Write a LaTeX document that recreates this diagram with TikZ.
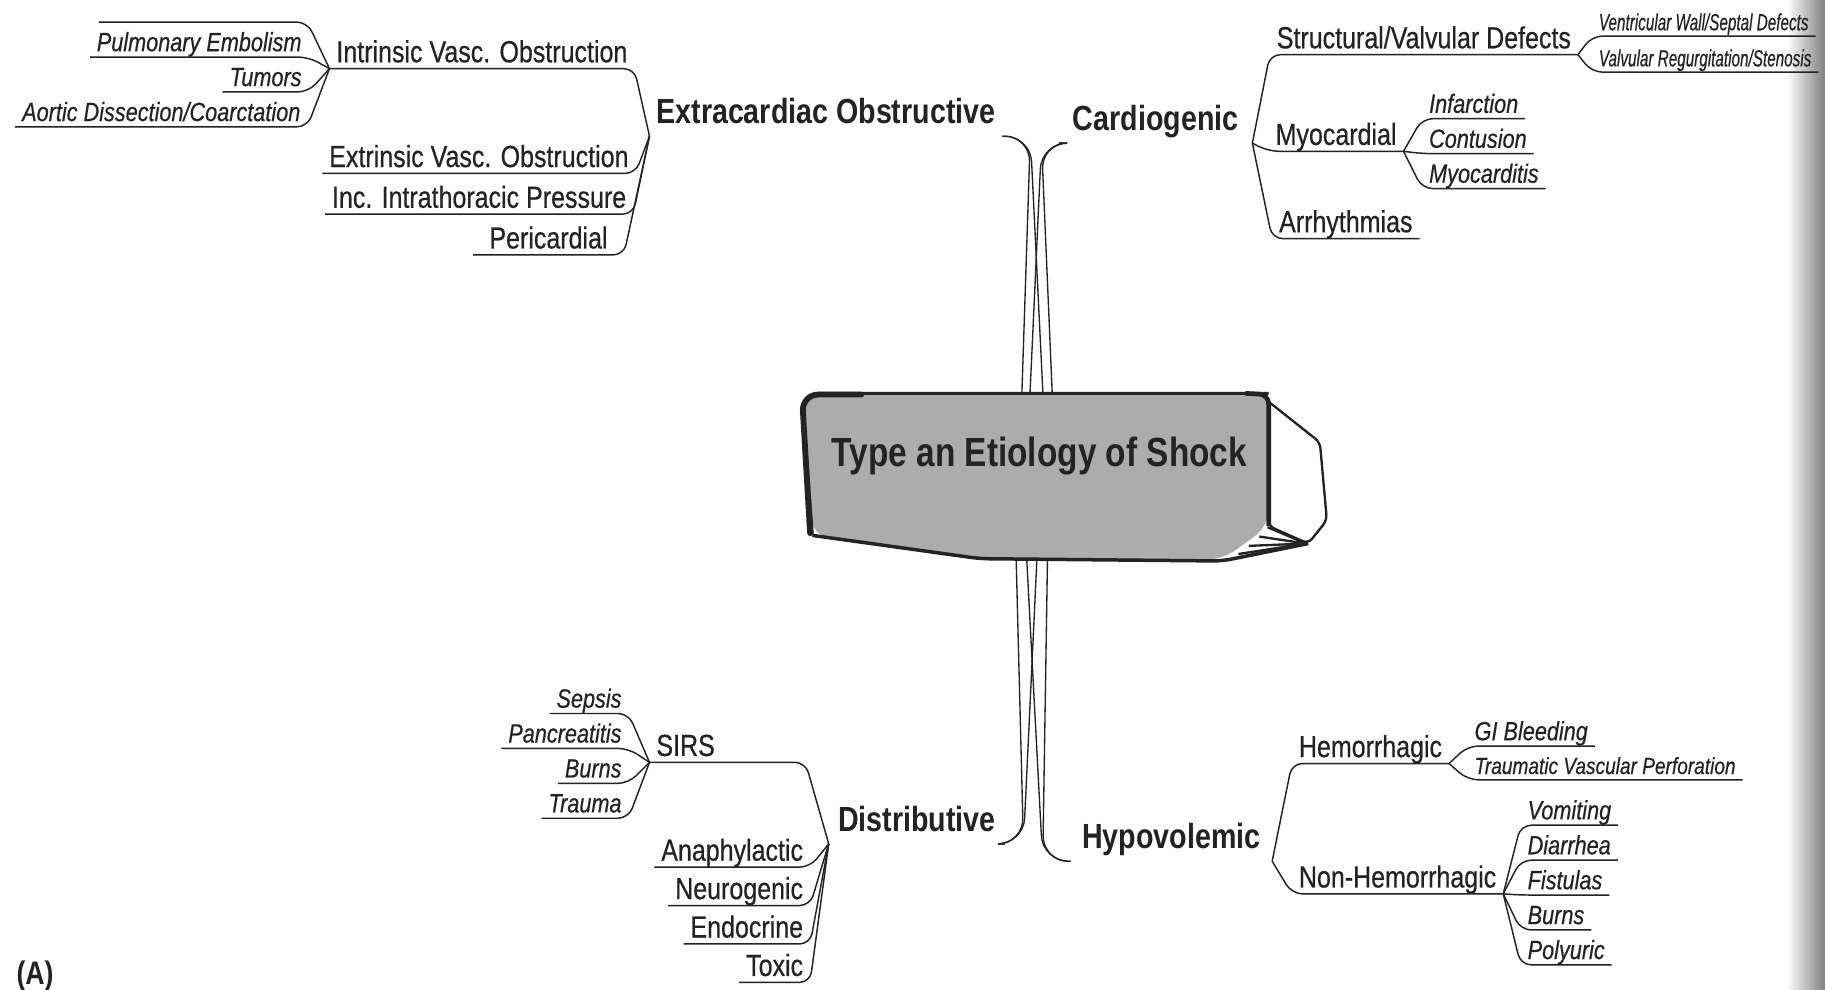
\documentclass[tikz,border=0pt]{standalone}
\usepackage{fontspec}
\usetikzlibrary{calc}
\newfontfamily\nf[FakeStretch=0.82, FakeBold=0.5]{Liberation Sans}
\newfontfamily\nfb[FakeStretch=0.82]{Liberation Sans}
\definecolor{ink}{RGB}{35,35,35}
\definecolor{boxgray}{RGB}{172,172,172}
\tikzset{
 conn/.style={draw=ink, line width=1.25pt, rounded corners=9pt},
 wedge/.style={draw=ink, line width=1.15pt, rounded corners=22pt},
 basetext/.style={text=ink, inner xsep=6pt, inner ysep=0pt, outer sep=0pt},
 maintopic/.style={basetext, font=\nfb\fontsize{30}{30}\selectfont\bfseries, text height=22pt, text depth=11pt},
 subtopic/.style={basetext, font=\nf\fontsize{26.2}{26}\selectfont, text height=19pt, text depth=5.5pt},
 leaf/.style={basetext, font=\nf\fontsize{22.7}{23}\selectfont\itshape, text height=17pt, text depth=5pt},
 smallleaf/.style={leaf, font=\nf\fontsize{20}{20}\selectfont\itshape},
}
% left child: style, name, parent, y, offset, text
\newcommand\Lkid[6]{%
 \node[#1, anchor=south east] (#2) at ($(#3.south west |- 0,#4)+(-#5,0)$) {#6};
 \draw[conn] (#2.south west) -- (#2.south east) -- (#3.south west);}
% right child
\newcommand\Rkid[6]{%
 \node[#1, anchor=south west] (#2) at ($(#3.south east |- 0,#4)+(#5,0)$) {#6};
 \draw[conn] (#3.south east) -- (#2.south west) -- (#2.south east);}
\begin{document}
\begin{tikzpicture}[x=1pt,y=-1pt]
\useasboundingbox (0,0) rectangle (1568,850);
\fill[white] (0,0) rectangle (1568,850);
\shade[left color=white, right color=black!50] (1535,0) rectangle (1568,850);

% main topics
\node[maintopic, anchor=south west] (ext) at (558,117) {Extracardiac Obstructive};
\node[maintopic, anchor=south east, inner xsep=12pt] (card) at (1076,123) {Cardiogenic};
\node[maintopic, anchor=south west, inner xsep=8pt] (dist) at (712,725) {Distributive};
\node[maintopic, anchor=south east, inner xsep=10pt] (hypo) at (1093,740) {Hypovolemic};

% Extracardiac Obstructive
\Lkid{subtopic}{intr}{ext}{59}{13}{Intrinsic Vasc. Obstruction}
\Lkid{subtopic}{extr}{ext}{149}{12}{Extrinsic Vasc. Obstruction}
\Lkid{subtopic}{inc}{ext}{184}{14}{Inc. Intrathoracic Pressure}
\Lkid{subtopic, inner xsep=14pt}{peri}{ext}{219}{22}{Pericardial}
\coordinate (bl1) at (85,19);
\coordinate (bl2) at ($(intr.south west |- 0,19)+(-19,0)$);
\draw[conn] (bl1) -- (bl2) -- (intr.south west);
\Lkid{leaf}{pe}{intr}{49}{18}{Pulmonary Embolism}
\Lkid{leaf}{tum}{intr}{79}{18}{Tumors}
\Lkid{leaf}{aor}{intr}{109}{19}{Aortic Dissection/Coarctation}

% Cardiogenic
\Rkid{subtopic}{struct}{card}{47}{15}{Structural/Valvular Defects}
\Rkid{subtopic}{myo}{card}{130}{14}{Myocardial}
\Rkid{subtopic}{arr}{card}{205}{17}{Arrhythmias}
\Rkid{smallleaf}{vent}{struct}{31}{12}{\scalebox{0.8}[1]{Ventricular Wall/Septal Defects}}
\Rkid{smallleaf}{valv}{struct}{62}{12}{\scalebox{0.8}[1]{Valvular Regurgitation/Stenosis}}
\Rkid{leaf}{inf}{myo}{102}{16}{Infarction}
\Rkid{leaf}{cont}{myo}{132}{16}{Contusion}
\Rkid{leaf}{myoc}{myo}{162}{16}{Myocarditis}

% Distributive
\node[subtopic, anchor=south west] (sirs) at (558,655) {SIRS};
\coordinate (sirsc) at ($(dist.south west |- 0,655)+(-20,0)$);
\draw[conn] (sirs.south west) -- (sirsc) -- (dist.south west);
\Lkid{subtopic}{ana}{dist}{745}{16}{Anaphylactic}
\Lkid{subtopic}{neu}{dist}{778}{16}{Neurogenic}
\Lkid{subtopic}{endo}{dist}{811}{16}{Endocrine}
\Lkid{subtopic}{tox}{dist}{844}{16}{Toxic}
\Lkid{leaf}{sep}{sirs}{613}{18}{Sepsis}
\Lkid{leaf}{pan}{sirs}{643}{18}{Pancreatitis}
\Lkid{leaf}{bur1}{sirs}{673}{18}{Burns}
\Lkid{leaf}{trau}{sirs}{703}{18}{Trauma}

% Hypovolemic
\Rkid{subtopic}{hem}{hypo}{656}{17}{Hemorrhagic}
\Rkid{subtopic}{nonhem}{hypo}{768}{17}{Non-Hemorrhagic}
\Rkid{leaf}{gi}{hem}{641}{16}{GI Bleeding}
\Rkid{smallleaf}{trvp}{hem}{670}{16}{Traumatic Vascular Perforation}
\Rkid{leaf}{vom}{nonhem}{709}{15}{Vomiting}
\Rkid{leaf}{dia}{nonhem}{739}{15}{Diarrhea}
\Rkid{leaf}{fis}{nonhem}{769}{15}{Fistulas}
\Rkid{leaf}{bur2}{nonhem}{799}{15}{Burns}
\Rkid{leaf}{pol}{nonhem}{829}{15}{Polyuric}

% wedges to the central box
\coordinate (bt1) at (878,337); \coordinate (bt2) at (885,337);
\coordinate (bt3) at (896,337); \coordinate (bt4) at (904,337);
\coordinate (bb1) at (873,478); \coordinate (bb2) at (882,478);
\coordinate (bb3) at (891,478); \coordinate (bb4) at (900,478);
\coordinate (extP) at ($(ext.south east)+(24,0)$);
\coordinate (cardP) at ($(card.south west)+(-15,0)$);
\coordinate (distP) at ($(dist.south east)+(16,0)$);
\coordinate (hypoP) at ($(hypo.south west)+(-24,0)$);
\draw[wedge] (ext.south east) -- (extP) -- (bt1);
\draw[wedge] (ext.south east) -- (extP) -- (bt3);
\draw[wedge] (card.south west) -- (cardP) -- (bt2);
\draw[wedge] (card.south west) -- (cardP) -- (bt4);
\draw[wedge] (dist.south east) -- (distP) -- (bb1);
\draw[wedge] (dist.south east) -- (distP) -- (bb3);
\draw[wedge] (hypo.south west) -- (hypoP) -- (bb2);
\draw[wedge] (hypo.south west) -- (hypoP) -- (bb4);

% central box
\filldraw[fill=white, draw=ink, line width=2pt, rounded corners=5pt]
  (1086,342) -- (1134,380) -- (1140,447) -- (1124,467) -- (1090,452) -- cycle;
\fill[boxgray, rounded corners=14pt]
  (689,338) -- (1090,338) -- (1090,452) -- (1050,481) -- (842,480) -- (698,460) -- cycle;
\draw[ink, line width=2.5pt, rounded corners=14pt] (698,460) -- (689,338) -- (1090,338);
\draw[ink, line width=4pt, rounded corners=8pt] (1070,338) -- (1090,339) -- (1090,452);
\draw[ink, line width=3pt, rounded corners=8pt] (698,460) -- (842,480) -- (1050,482) -- (1124,467);
\draw[ink, line width=5pt, rounded corners=14pt, line cap=round] (740,339) -- (689,339) -- (696,458);
\coordinate (hatchP) at (1122,467);
\foreach \hx/\hy in {1089/453, 1082/461, 1073/469, 1064/476}
  \draw[ink, line width=2pt] (hatchP) -- (\hx,\hy);
\node[font=\nfb\fontsize{35}{35}\selectfont\bfseries, text=ink, anchor=base] (ctr) at (893,401) {Type an Etiology of Shock};

\node[font=\nfb\fontsize{28}{28}\selectfont\bfseries, text=ink, anchor=base west, inner sep=0pt] (lbl) at (14,846) {(A)};
\end{tikzpicture}
\end{document}
